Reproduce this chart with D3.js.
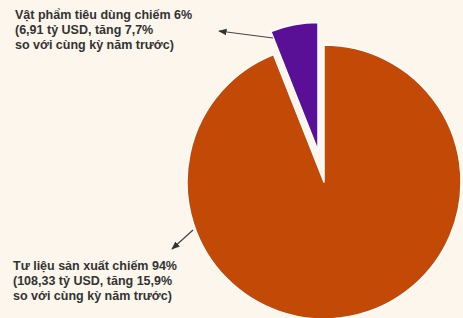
<!DOCTYPE html>
<html>
<head>
<meta charset="utf-8">
<script src="https://cdn.jsdelivr.net/npm/d3@7"></script>
<style>
  body { margin: 0; background: #fcf6ec; }
  svg { display: block; }
</style>
</head>
<body>
<div id="chart"></div>
<script>
const width = 463;
const height = 318;

// data
const categories = ["Tư liệu sản xuất", "Vật phẩm tiêu dùng"];
const shares = [94, 6];
const colors = ["#c24a06", "#5a1096"];
const labelLines = [
  ["Tư liệu sản xuất chiếm 94%", "(108,33 tỷ USD, tăng 15,9%", "so với cùng kỳ năm trước)"],
  ["Vật phẩm tiêu dùng chiếm 6%", "(6,91 tỷ USD, tăng 7,7%", "so với cùng kỳ năm trước)"]
];

const svg = d3.select("#chart")
  .append("svg")
  .attr("width", width)
  .attr("height", height);

svg.append("rect")
  .attr("width", width)
  .attr("height", height)
  .attr("fill", "#fcf6ec");

const cx = 324, cy = 182;
const radius = 137;

// main slice starts at 12 o'clock, clockwise
const arcs = d3.pie().sort(null)(shares);

const arcMain = d3.arc().innerRadius(0).outerRadius(radius);
const arcSmall = d3.arc().innerRadius(0).outerRadius(128);

const g = svg.append("g").attr("transform", `translate(${cx},${cy})`);

g.selectAll("path")
  .data(arcs)
  .enter()
  .append("path")
  .attr("transform", (d, i) => {
    if (i === 0) return null;
    const mid = (d.startAngle + d.endAngle) / 2;
    const off = 32;
    return `translate(${Math.sin(mid) * off},${-Math.cos(mid) * off})`;
  })
  .attr("d", (d, i) => i === 0 ? arcMain(d) : arcSmall(d))
  .attr("fill", (d, i) => colors[i])
  .attr("stroke", "#fff")
  .attr("stroke-width", 1.5)
  .attr("stroke-linejoin", "round");

// arrows
const defs = svg.append("defs");
defs.append("marker")
  .attr("id", "head")
  .attr("viewBox", "0 0 10 10")
  .attr("refX", 9)
  .attr("refY", 5)
  .attr("markerWidth", 7)
  .attr("markerHeight", 7)
  .attr("orient", "auto")
  .append("path")
  .attr("d", "M0,1L10,5L0,9z")
  .attr("fill", "#333");

const arrows = [
  { x1: 193, y1: 230, x2: 172, y2: 249 },
  { x1: 273, y1: 38, x2: 219, y2: 31 }
];
svg.selectAll(".arrow")
  .data(arrows)
  .enter()
  .append("line")
  .attr("class", "arrow")
  .attr("x1", d => d.x1).attr("y1", d => d.y1)
  .attr("x2", d => d.x2).attr("y2", d => d.y2)
  .attr("stroke", "#444")
  .attr("stroke-width", 1.2)
  .attr("marker-end", "url(#head)");

// labels
const labelPos = [{ x: 13, y: 270 }, { x: 15, y: 19 }];
labelLines.forEach((lines, i) => {
  svg.append("text")
    .attr("x", labelPos[i].x)
    .attr("y", labelPos[i].y)
    .attr("font-family", "Liberation Sans, Arial, sans-serif")
    .attr("font-size", 12.5)
    .attr("font-weight", "bold")
    .attr("fill", "#333")
    .selectAll("tspan")
    .data(lines)
    .enter()
    .append("tspan")
    .attr("x", labelPos[i].x)
    .attr("dy", (d, j) => j === 0 ? 0 : 15)
    .text(d => d);
});
</script>
</body>
</html>
